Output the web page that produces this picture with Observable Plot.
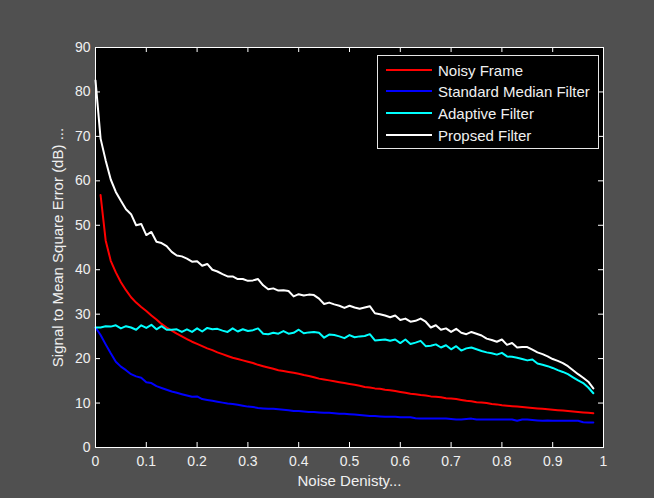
<!DOCTYPE html>
<html><head><meta charset="utf-8">
<script src="https://cdn.jsdelivr.net/npm/d3@7"></script>
<script src="https://cdn.jsdelivr.net/npm/@observablehq/plot@0.6"></script>
<style>
html,body{margin:0;padding:0;background:#505050;}
#wrap{position:relative;width:654px;height:498px;font-family:"Liberation Sans",Arial,sans-serif;}
#legend{position:absolute;left:377px;top:55px;width:222px;height:94px;background:#000;border:1px solid #e6e6e6;box-sizing:border-box;}
.row{position:absolute;left:0;height:20px;display:flex;align-items:center;}
.sw{width:46px;height:2px;margin-left:8px;margin-right:6px;}
.lab{color:#f0f0f0;font-size:15px;white-space:nowrap;}
</style></head>
<body><div id="wrap"></div>
<script>
const seriesNames = ["Noisy Frame", "Standard Median Filter", "Adaptive Filter", "Propsed Filter"];
const seriesColors = ["#ff0000", "#0000ff", "#00ffff", "#ffffff"];
const xTicks = [0, 0.1, 0.2, 0.3, 0.4, 0.5, 0.6, 0.7, 0.8, 0.9, 1];
const yTicks = [0, 10, 20, 30, 40, 50, 60, 70, 80, 90];
const xLabel = "Noise Denisty...";
const yLabel = "Signal to Mean Square Error (dB) ...";

const noiseDensity = [
  0.00, 0.01, 0.02, 0.03, 0.04, 0.05, 0.06, 0.07, 0.08, 0.09,
  0.10, 0.11, 0.12, 0.13, 0.14, 0.15, 0.16, 0.17, 0.18, 0.19,
  0.20, 0.21, 0.22, 0.23, 0.24, 0.25, 0.26, 0.27, 0.28, 0.29,
  0.30, 0.31, 0.32, 0.33, 0.34, 0.35, 0.36, 0.37, 0.38, 0.39,
  0.40, 0.41, 0.42, 0.43, 0.44, 0.45, 0.46, 0.47, 0.48, 0.49,
  0.50, 0.51, 0.52, 0.53, 0.54, 0.55, 0.56, 0.57, 0.58, 0.59,
  0.60, 0.61, 0.62, 0.63, 0.64, 0.65, 0.66, 0.67, 0.68, 0.69,
  0.70, 0.71, 0.72, 0.73, 0.74, 0.75, 0.76, 0.77, 0.78, 0.79,
  0.80, 0.81, 0.82, 0.83, 0.84, 0.85, 0.86, 0.87, 0.88, 0.89,
  0.90, 0.91, 0.92, 0.93, 0.94, 0.95, 0.96, 0.97, 0.98
];

const noisyFrame = [
  null, 56.8, 46.6, 42.0, 39.4, 37.2, 35.4, 33.8, 32.6, 31.6,
  30.7, 29.7, 28.8, 27.8, 27.0, 26.3, 25.6, 25.0, 24.4, 23.8,
  23.3, 22.8, 22.3, 21.9, 21.4, 21.0, 20.6, 20.2, 19.9, 19.6,
  19.3, 19.0, 18.6, 18.3, 18.0, 17.7, 17.4, 17.2, 17.0, 16.8,
  16.6, 16.3, 16.1, 15.8, 15.5, 15.3, 15.1, 14.9, 14.7, 14.5,
  14.3, 14.1, 13.9, 13.6, 13.5, 13.3, 13.2, 13.0, 12.9, 12.7,
  12.5, 12.3, 12.1, 12.0, 11.8, 11.7, 11.5, 11.4, 11.3, 11.1,
  11.0, 10.9, 10.7, 10.5, 10.4, 10.2, 10.1, 10.0, 9.8, 9.7,
  9.5, 9.4, 9.3, 9.2, 9.1, 9.0, 8.9, 8.8, 8.7, 8.6,
  8.5, 8.4, 8.3, 8.2, 8.1, 8.0, 7.9, 7.8, 7.7
];

const medianFilter = [
  27.0, 25.3, 23.2, 21.2, 19.3, 18.2, 17.4, 16.5, 16.0, 15.7,
  14.7, 14.5, 13.8, 13.4, 13.0, 12.6, 12.3, 12.0, 11.7, 11.4,
  11.5, 10.9, 10.7, 10.5, 10.3, 10.1, 9.9, 9.8, 9.6, 9.4,
  9.2, 9.1, 8.9, 8.8, 8.7, 8.7, 8.6, 8.5, 8.4, 8.2,
  8.2, 8.1, 8.0, 8.0, 7.9, 7.8, 7.8, 7.7, 7.6, 7.6,
  7.5, 7.4, 7.3, 7.2, 7.1, 7.1, 7.0, 6.9, 6.9, 6.9,
  6.8, 6.8, 6.8, 6.6, 6.5, 6.5, 6.5, 6.5, 6.5, 6.5,
  6.4, 6.3, 6.3, 6.4, 6.5, 6.3, 6.3, 6.3, 6.3, 6.3,
  6.3, 6.3, 6.3, 6.0, 6.3, 6.3, 6.2, 6.1, 6.0, 6.1,
  6.0, 6.0, 6.0, 6.0, 6.0, 6.0, 5.7, 5.6, 5.6
];

const adaptiveFilter = [
  27.0, 27.0, 27.3, 27.2, 27.5, 26.8, 27.3, 27.0, 26.5, 27.5,
  26.9, 27.6, 26.6, 27.3, 26.5, 26.5, 26.6, 26.0, 26.6, 26.0,
  26.8, 26.1, 26.9, 26.6, 26.7, 26.3, 26.0, 26.8, 26.1, 26.6,
  26.2, 26.4, 26.8, 25.6, 25.5, 25.8, 25.6, 26.2, 25.6, 25.8,
  26.5, 25.7, 25.9, 26.0, 25.8, 24.7, 25.4, 25.3, 25.0, 24.6,
  25.3, 24.8, 25.0, 25.1, 25.5, 24.1, 24.2, 24.3, 24.0, 24.3,
  23.5, 24.3, 23.3, 23.6, 24.0, 22.8, 22.9, 23.2, 22.5, 23.0,
  22.1, 22.8, 21.8, 22.3, 22.5, 22.1, 21.7, 21.4, 21.2, 20.9,
  21.3, 20.5, 20.4, 20.2, 19.9, 19.6, 19.8, 18.9, 18.6, 18.3,
  17.9, 17.4, 17.0, 16.5, 15.8, 15.1, 14.5, 13.5, 12.2
];

const proposedFilter = [
  82.6, 69.5, 64.6, 60.3, 57.5, 55.5, 53.6, 52.5, 50.0, 50.3,
  47.8, 48.5, 46.3, 46.0, 45.3, 44.0, 43.2, 43.0, 42.5, 41.8,
  41.9, 40.9, 41.3, 40.0, 39.6, 39.0, 38.5, 38.5, 37.9, 37.9,
  37.5, 37.6, 37.9, 36.5, 35.6, 35.8, 35.3, 35.4, 35.2, 34.0,
  34.5, 34.2, 34.4, 34.3, 33.5, 32.3, 32.6, 32.2, 31.9, 31.4,
  31.9, 31.5, 31.2, 31.5, 31.8, 30.2, 30.0, 29.7, 29.3, 29.7,
  28.7, 29.0, 28.3, 28.5, 29.0, 28.3, 27.0, 27.5, 26.5, 26.8,
  26.0, 26.7, 25.8, 25.5, 26.0, 25.6, 25.2, 24.5, 24.2, 23.8,
  24.3, 23.1, 23.5, 22.5, 22.6, 22.6, 22.0, 21.4, 21.0, 20.5,
  19.9, 19.5, 19.0, 18.3, 17.4, 16.5, 15.7, 14.8, 13.3
];

const seriesValues = [noisyFrame, medianFilter, adaptiveFilter, proposedFilter];
const rows = [];
seriesValues.forEach((vals, s) => {
  vals.forEach((v, i) => rows.push({series: seriesNames[s], x: noiseDensity[i], y: v}));
});

const font = "'Liberation Sans', Arial, sans-serif";
const chart = Plot.plot({
  width: 654, height: 498,
  marginLeft: 95, marginRight: 51, marginTop: 47, marginBottom: 51,
  style: {background: "#505050", color: "#f0f0f0", fontFamily: font, fontSize: "14px"},
  x: {domain: [0, 1]},
  y: {domain: [0, 90]},
  color: {domain: seriesNames, range: seriesColors},
  marks: [
    Plot.frame({fill: "black"}),
    Plot.gridX(xTicks, {insetTop: 395, stroke: "#ffffff", strokeOpacity: 1}),
    Plot.gridX(xTicks, {insetBottom: 395, stroke: "#ffffff", strokeOpacity: 1}),
    Plot.gridY(yTicks, {insetRight: 503, stroke: "#ffffff", strokeOpacity: 1}),
    Plot.gridY(yTicks, {insetLeft: 503, stroke: "#ffffff", strokeOpacity: 1}),
    Plot.line(rows, {x: "x", y: "y", z: "series", stroke: "series", strokeWidth: 2}),
    Plot.frame({stroke: "#ffffff"}),
    Plot.axisX(xTicks, {tickSize: 0, tickPadding: 9, label: null, fontSize: 14, tickFormat: (d) => String(d)}),
    Plot.axisY(yTicks, {tickSize: 0, tickPadding: 5, label: null, fontSize: 14, tickFormat: (d) => String(d)}),
    Plot.text([xLabel], {frameAnchor: "bottom", dy: 34, lineAnchor: "middle", textAnchor: "middle", fontSize: 15, fill: "#f0f0f0"}),
    Plot.text([yLabel], {frameAnchor: "left", dx: -37, rotate: -90, textAnchor: "middle", lineAnchor: "middle", fontSize: 15, fill: "#f0f0f0"})
  ]
});
const wrap = document.getElementById("wrap");
wrap.appendChild(chart);

const legend = document.createElement("div");
legend.id = "legend";
const rowTops = [4, 25, 47, 69];
seriesNames.forEach((name, i) => {
  const r = document.createElement("div");
  r.className = "row";
  r.style.top = rowTops[i] + "px";
  const sw = document.createElement("div");
  sw.className = "sw";
  sw.style.background = seriesColors[i];
  const lab = document.createElement("span");
  lab.className = "lab";
  lab.textContent = name;
  r.appendChild(sw); r.appendChild(lab);
  legend.appendChild(r);
});
wrap.appendChild(legend);
</script>
</body></html>
